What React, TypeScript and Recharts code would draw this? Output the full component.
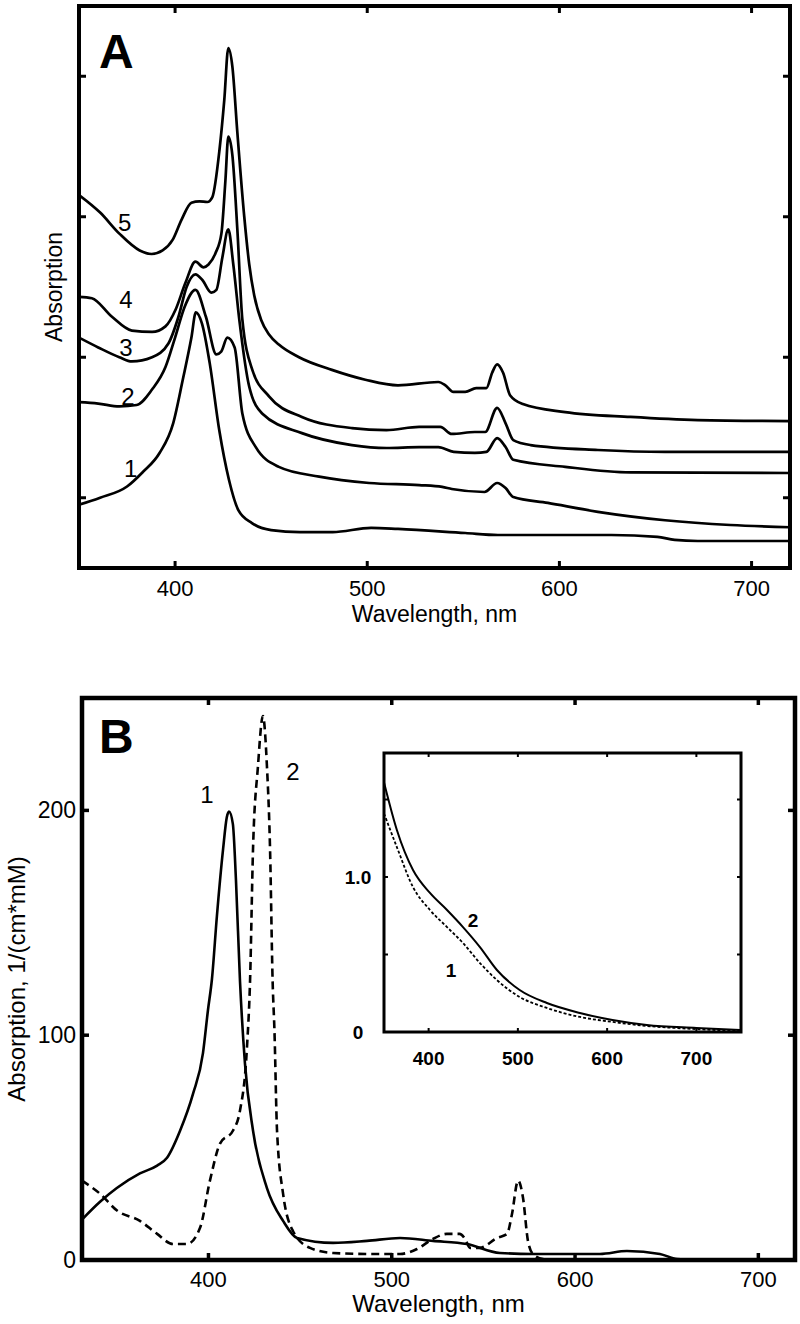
import React from 'react';
import { LineChart, Line, XAxis, YAxis, ReferenceArea, ReferenceDot } from 'recharts';

const FONT = '"Liberation Sans", Arial, Helvetica, sans-serif';
const INK = '#000';

// ---------------- Panel A data (wavelength nm, absorption a.u.) ----------------
const A_X_DOMAIN: [number, number] = [350, 720];
const A_Y_DOMAIN: [number, number] = [0.5, 4.5];
const A_X_TICKS = [400, 500, 600, 700];
const A_Y_TICKS = [1, 2, 3, 4];

const A_CURVE1: [number, number][] = [
  [350, 0.95], [361, 1.0], [375, 1.08], [383, 1.18], [392, 1.32], [399, 1.53], [404, 1.84],
  [408.5, 2.14], [410.8, 2.32], [414, 2.24], [418, 1.96], [423, 1.48], [428, 1.13], [433, 0.91],
  [440, 0.82], [450, 0.77], [465, 0.756], [482, 0.756], [502, 0.785], [516, 0.778], [551, 0.749],
  [568, 0.735], [603, 0.735], [627, 0.735], [651, 0.721], [660, 0.7], [672, 0.692], [720, 0.692],
];
const A_CURVE2: [number, number][] = [
  [350, 1.68], [360, 1.67], [371, 1.65], [380, 1.66], [388, 1.77], [395, 1.93], [400, 2.14],
  [405, 2.36], [410.6, 2.48], [416, 2.29], [421.5, 2.02], [424, 2.04], [427.2, 2.14], [431, 2.07],
  [435, 1.6], [442, 1.36], [454, 1.22], [475, 1.15], [501, 1.105], [527, 1.09], [539, 1.077],
  [544, 1.062], [561, 1.041], [567.6, 1.105], [572, 1.069], [576, 1.005], [594, 0.963],
  [620, 0.9], [655, 0.84], [689, 0.806], [720, 0.79],
];
const A_CURVE3: [number, number][] = [
  [350, 2.14], [360, 2.07], [371, 2.0], [377.5, 1.97], [388, 2.0], [396.6, 2.1], [401.8, 2.29],
  [406, 2.5], [410.6, 2.59], [414.2, 2.55], [418.9, 2.46], [421.5, 2.48], [424.6, 2.71],
  [427.7, 2.91], [430.3, 2.66], [433.4, 2.27], [438.6, 1.79], [445.3, 1.6], [466, 1.46],
  [492, 1.375], [510, 1.354], [527, 1.36], [537, 1.36], [545, 1.326], [556, 1.319], [562, 1.326],
  [567.6, 1.425], [572, 1.361], [576, 1.27], [603, 1.22], [637, 1.18], [720, 1.176],
];
const A_CURVE4: [number, number][] = [
  [350, 2.43], [356.7, 2.42], [367, 2.29], [377.5, 2.19], [388, 2.18], [395, 2.22], [400.3, 2.34],
  [405.4, 2.53], [410.6, 2.68], [414.8, 2.64], [417.4, 2.66], [421, 2.74], [424.1, 2.88],
  [426.2, 3.26], [427.7, 3.57], [429.8, 3.44], [432.4, 2.91], [435, 2.27], [440.2, 1.91],
  [449, 1.72], [466, 1.575], [492, 1.496], [510, 1.482], [527, 1.504], [538, 1.504], [544, 1.454],
  [556, 1.468], [561.4, 1.468], [567.6, 1.64], [572, 1.53], [576, 1.41], [585, 1.375],
  [620, 1.34], [655, 1.326], [720, 1.326],
];
const A_CURVE5: [number, number][] = [
  [350, 3.155], [361, 3.03], [371, 2.88], [381.6, 2.76], [387.8, 2.735], [393.5, 2.76],
  [398.7, 2.835], [403.4, 2.98], [408.5, 3.1], [412.7, 3.11], [416.8, 3.105], [419.4, 3.14],
  [423.1, 3.475], [425.6, 3.83], [427.7, 4.2], [429.8, 4.07], [432.4, 3.6], [436, 3.0],
  [438.6, 2.66], [441.2, 2.44], [444.8, 2.265], [449, 2.16], [454, 2.09], [464.5, 2.0],
  [481.6, 1.91], [499, 1.84], [516, 1.8], [537, 1.824], [540.7, 1.8], [544.8, 1.753], [551, 1.753],
  [556.7, 1.78], [562, 1.78], [565, 1.89], [567.6, 1.95], [570.7, 1.89], [574.3, 1.73],
  [581, 1.667], [603, 1.61], [637, 1.575], [672, 1.553], [720, 1.546],
];
const A_CURVES = [A_CURVE1, A_CURVE2, A_CURVE3, A_CURVE4, A_CURVE5];
const A_NAMES = ['1', '2', '3', '4', '5'];
const A_LABEL_POS: [number, number][] = [
  [376.9, 1.21], [375.4, 1.72], [374.4, 2.07], [374.4, 2.41], [373.8, 2.96],
];

// ---------------- Panel B data (wavelength nm, 1/(cm*mM)) ----------------
const B_X_DOMAIN: [number, number] = [331, 720];
const B_Y_DOMAIN: [number, number] = [0, 250];
const B_X_TICKS = [400, 500, 600, 700];
const B_Y_TICKS = [0, 100, 200];

const B_CURVE1: [number, number][] = [
  [331, 18], [341, 26], [350, 32], [362.6, 38.5], [372, 42], [377.4, 45.5], [384.5, 57.5],
  [391.6, 74], [397, 92], [399.7, 111], [401.9, 125], [404.6, 153], [408, 183], [410, 197],
  [411.2, 199.5], [413.3, 194], [415, 169], [417.2, 124], [419.9, 87.5], [424.3, 57.6],
  [431.9, 32], [440.7, 17.4], [448.3, 9.8], [468, 7.6], [486.5, 8.5], [504.5, 9.8],
  [522.5, 8.5], [541, 7.1], [559, 3.1], [577, 2.7], [599, 2.7], [613.6, 2.7], [628.3, 4.0],
  [646.3, 2.7], [655.6, 0.4], [668, 0], [720, 0],
];
const B_CURVE2: [number, number][] = [
  [331, 35.3], [340.8, 29.5], [350.1, 22], [362.6, 17.4], [372, 11.6], [380.6, 7.1],
  [388.3, 7.1], [395.4, 14.3], [400.8, 35.3], [406.3, 51.8], [413.4, 57.6], [417.2, 66.5],
  [421, 94.6], [422.7, 124.6], [424.3, 182.6], [427, 219.6], [429.7, 242], [431.9, 219.6],
  [433.6, 182.6], [435, 124], [436, 102], [437.4, 57.6], [440.7, 29.5], [446.1, 12.9],
  [455.4, 5.4], [468, 3.1], [486.5, 2.7], [504.5, 2.7], [513.8, 4.9], [522.5, 9.4], [530, 11.6],
  [537, 11.6], [540, 9.4], [542.7, 5.4], [548, 5.4], [557.4, 9.8], [562.9, 11.6], [565.6, 20.5],
  [568.9, 35.3], [571.6, 27.7], [574.3, 8.5], [577, 2.7], [582.5, 0.4], [590, 0], [720, 0],
];
const B_LABELS: [string, number, number][] = [['1', 399.2, 207], ['2', 446.1, 217.4]];

// ---------------- Inset data ----------------
const IN_X_DOMAIN: [number, number] = [350, 750];
const IN_Y_DOMAIN: [number, number] = [0, 1.8];
const IN_X_TICKS = [400, 500, 600, 700];
const IN_Y_TICKS = [0, 0.5, 1, 1.5];
const IN_CURVE1: [number, number][] = [
  [350, 1.41], [364.6, 1.19], [382.5, 0.935], [401.5, 0.787], [420.6, 0.677], [438.5, 0.574],
  [457.5, 0.445], [476.5, 0.335], [502, 0.226], [532.5, 0.155], [569.5, 0.097], [606, 0.065],
  [644.5, 0.039], [700, 0.019], [749, 0.006],
];
const IN_CURVE2: [number, number][] = [
  [350, 1.61], [364.6, 1.3], [382.5, 1.045], [401.5, 0.897], [420.6, 0.787], [438.5, 0.677],
  [457.5, 0.548], [476.5, 0.4], [502, 0.271], [532.5, 0.187], [569.5, 0.123], [606, 0.077],
  [644.5, 0.045], [700, 0.026], [749, 0.013],
];
const IN_LABELS: [string, number, number][] = [['2', 449.7, 0.72], ['1', 425, 0.4]];

// ---------------- helpers ----------------
const pts = (a: [number, number][]) => a.map(([x, y]) => ({ x, y }));

interface TickStyle {
  len: number; sw: number; span: number; size: number; gap: number;
  bold?: boolean; anchor?: 'start' | 'middle' | 'end'; fmt?: (v: number) => string;
}

const xTick = (s: TickStyle) => (p: any) => {
  const { x, y, payload } = p;
  const txt = s.fmt ? s.fmt(payload.value) : String(payload.value);
  return (
    <g>
      <line x1={x} y1={y} x2={x} y2={y - s.len} stroke={INK} strokeWidth={s.sw} />
      <line x1={x} y1={y - s.span} x2={x} y2={y - s.span + s.len} stroke={INK} strokeWidth={s.sw} />
      {txt !== '' && (
        <text x={x} y={y + s.gap} textAnchor="middle" fontSize={s.size} fontFamily={FONT}
          fontWeight={s.bold ? 'bold' : 'normal'} fill={INK}>{txt}</text>
      )}
    </g>
  );
};

const yTick = (s: TickStyle) => (p: any) => {
  const { x, y, payload } = p;
  const txt = s.fmt ? s.fmt(payload.value) : String(payload.value);
  return (
    <g>
      <line x1={x} y1={y} x2={x + s.len} y2={y} stroke={INK} strokeWidth={s.sw} />
      <line x1={x + s.span} y1={y} x2={x + s.span - s.len} y2={y} stroke={INK} strokeWidth={s.sw} />
      {txt !== '' && (
        <text x={x - s.gap} y={y} textAnchor={s.anchor || 'end'} dominantBaseline="central"
          fontSize={s.size} fontFamily={FONT} fontWeight={s.bold ? 'bold' : 'normal'} fill={INK}>{txt}</text>
      )}
    </g>
  );
};

interface FrameStyle {
  sw: number; letter?: string; letterSize?: number; letterDx?: number; letterDy?: number;
  xTitle?: string; xTitleDy?: number; yTitle?: string; yTitleDx?: number; titleSize?: number;
}
const frame = (o: FrameStyle) => (p: any) => {
  const { x, y, width, height } = p;
  return (
    <g>
      <rect x={x} y={y} width={width} height={height} fill="none" stroke={INK} strokeWidth={o.sw} />
      {o.letter && (
        <text x={x + (o.letterDx || 0)} y={y + (o.letterDy || 0)} fontSize={o.letterSize}
          fontFamily={FONT} fontWeight="bold" fill={INK}>{o.letter}</text>
      )}
      {o.xTitle && (
        <text x={x + width / 2} y={y + height + (o.xTitleDy || 0)} textAnchor="middle"
          fontSize={o.titleSize} fontFamily={FONT} fill={INK}>{o.xTitle}</text>
      )}
      {o.yTitle && (
        <text x={x - (o.yTitleDx || 0)} y={y + height / 2} textAnchor="middle" dominantBaseline="central"
          transform={`rotate(-90 ${x - (o.yTitleDx || 0)} ${y + height / 2})`}
          fontSize={o.titleSize} fontFamily={FONT} fill={INK}>{o.yTitle}</text>
      )}
    </g>
  );
};

const textDot = (txt: string, size: number, bold = false) => (p: any) => (
  <text x={p.cx} y={p.cy} textAnchor="middle" dominantBaseline="central" fontSize={size}
    fontFamily={FONT} fontWeight={bold ? 'bold' : 'normal'} fill={INK}>{txt}</text>
);

// ---------------- layout ----------------
// axes have a 1px band (a zero-size axis is not drawn by recharts), margins compensate
const AX = 1;
const A_W = 800, A_H = 640;
const A_M = { top: 6, right: 10, bottom: 72 - AX, left: 79 - AX };
const B_TOP = 640, B_W = 800, B_H = 684;
const B_M = { top: 58, right: 5, bottom: 64 - AX, left: 82 - AX };
const IN_LEFT = 330, IN_TOP = 730, IN_W = 440, IN_H = 360;
const IN_M = { top: 23, right: 29, bottom: 58 - AX, left: 54 - AX };

function PanelA() {
  const pw = A_W - A_M.left - A_M.right - AX;
  const ph = A_H - A_M.top - A_M.bottom - AX;
  return (
    <LineChart width={A_W} height={A_H} margin={A_M}>
      <XAxis type="number" dataKey="x" domain={A_X_DOMAIN} ticks={A_X_TICKS} allowDataOverflow
        height={AX} axisLine={false} tickLine={false} tickSize={0} tickMargin={0} interval={0}
        tick={xTick({ len: 7, sw: 3, span: ph, size: 22, gap: 28 })} />
      <YAxis type="number" domain={A_Y_DOMAIN} ticks={A_Y_TICKS} allowDataOverflow
        width={AX} axisLine={false} tickLine={false} tickSize={0} tickMargin={0} interval={0}
        tick={yTick({ len: 7, sw: 3, span: pw, size: 22, gap: 6, fmt: () => '' })} />
      <ReferenceArea x1={A_X_DOMAIN[0]} x2={A_X_DOMAIN[1]} y1={A_Y_DOMAIN[0]} y2={A_Y_DOMAIN[1]}
        shape={frame({ sw: 4, letter: 'A', letterSize: 48, letterDx: 20, letterDy: 62,
          xTitle: 'Wavelength, nm', xTitleDy: 54, yTitle: 'Absorption', yTitleDx: 25, titleSize: 23 })} />
      {A_CURVES.map((c, i) => (
        <Line key={A_NAMES[i]} data={pts(c)} dataKey="y" type="monotone" stroke={INK} strokeWidth={2.7}
          dot={false} activeDot={false} isAnimationActive={false} />
      ))}
      {A_LABEL_POS.map(([x, y], i) => (
        <ReferenceDot key={'l' + i} x={x} y={y} r={0} shape={textDot(A_NAMES[i], 24)} />
      ))}
    </LineChart>
  );
}

function PanelB() {
  const pw = B_W - B_M.left - B_M.right - AX;
  const ph = B_H - B_M.top - B_M.bottom - AX;
  return (
    <LineChart width={B_W} height={B_H} margin={B_M}>
      <XAxis type="number" dataKey="x" domain={B_X_DOMAIN} ticks={B_X_TICKS} allowDataOverflow
        height={AX} axisLine={false} tickLine={false} tickSize={0} tickMargin={0} interval={0}
        tick={xTick({ len: 7, sw: 3.5, span: ph, size: 22, gap: 27 })} />
      <YAxis type="number" domain={B_Y_DOMAIN} ticks={B_Y_TICKS} allowDataOverflow
        width={AX} axisLine={false} tickLine={false} tickSize={0} tickMargin={0} interval={0}
        tick={yTick({ len: 7, sw: 3.5, span: pw, size: 23, gap: 6 })} />
      <ReferenceArea x1={B_X_DOMAIN[0]} x2={B_X_DOMAIN[1]} y1={B_Y_DOMAIN[0]} y2={B_Y_DOMAIN[1]}
        shape={frame({ sw: 4.5, letter: 'B', letterSize: 48, letterDx: 17, letterDy: 55,
          xTitle: 'Wavelength, nm', xTitleDy: 52, yTitle: 'Absorption, 1/(cm*mM)', yTitleDx: 66, titleSize: 24 })} />
      <Line data={pts(B_CURVE1)} dataKey="y" type="monotone" stroke={INK} strokeWidth={2.6}
        dot={false} activeDot={false} isAnimationActive={false} />
      <Line data={pts(B_CURVE2)} dataKey="y" type="monotone" stroke={INK} strokeWidth={2.6}
        strokeDasharray="8 5" dot={false} activeDot={false} isAnimationActive={false} />
      {B_LABELS.map(([t, x, y]) => (
        <ReferenceDot key={'b' + t} x={x} y={y} r={0} shape={textDot(t, 24)} />
      ))}
    </LineChart>
  );
}

function Inset() {
  const pw = IN_W - IN_M.left - IN_M.right - AX;
  const ph = IN_H - IN_M.top - IN_M.bottom - AX;
  return (
    <LineChart width={IN_W} height={IN_H} margin={IN_M}>
      <XAxis type="number" dataKey="x" domain={IN_X_DOMAIN} ticks={IN_X_TICKS} allowDataOverflow
        height={AX} axisLine={false} tickLine={false} tickSize={0} tickMargin={0} interval={0}
        tick={xTick({ len: 4, sw: 2, span: ph, size: 19, gap: 33, bold: true })} />
      <YAxis type="number" domain={IN_Y_DOMAIN} ticks={IN_Y_TICKS} allowDataOverflow
        width={AX} axisLine={false} tickLine={false} tickSize={0} tickMargin={0} interval={0}
        tick={yTick({ len: 4, sw: 2, span: pw, size: 19, gap: 26, bold: true, anchor: 'middle',
          fmt: (v) => (v === 0 ? '0' : v === 1 ? '1.0' : '') })} />
      <ReferenceArea x1={IN_X_DOMAIN[0]} x2={IN_X_DOMAIN[1]} y1={IN_Y_DOMAIN[0]} y2={IN_Y_DOMAIN[1]}
        shape={frame({ sw: 3 })} />
      <Line data={pts(IN_CURVE2)} dataKey="y" type="monotone" stroke={INK} strokeWidth={2}
        dot={false} activeDot={false} isAnimationActive={false} />
      <Line data={pts(IN_CURVE1)} dataKey="y" type="monotone" stroke={INK} strokeWidth={1.8}
        strokeDasharray="3 2" dot={false} activeDot={false} isAnimationActive={false} />
      {IN_LABELS.map(([t, x, y]) => (
        <ReferenceDot key={'i' + t} x={x} y={y} r={0} shape={textDot(t, 19, true)} />
      ))}
    </LineChart>
  );
}

export default function App() {
  return (
    <div style={{ position: 'absolute', left: 0, top: 0, width: 800, height: 1324, background: '#fff' }}>
      <div style={{ position: 'absolute', left: 0, top: 0 }}>
        <PanelA />
      </div>
      <div style={{ position: 'absolute', left: 0, top: B_TOP }}>
        <PanelB />
      </div>
      <div style={{ position: 'absolute', left: IN_LEFT, top: IN_TOP }}>
        <Inset />
      </div>
    </div>
  );
}
